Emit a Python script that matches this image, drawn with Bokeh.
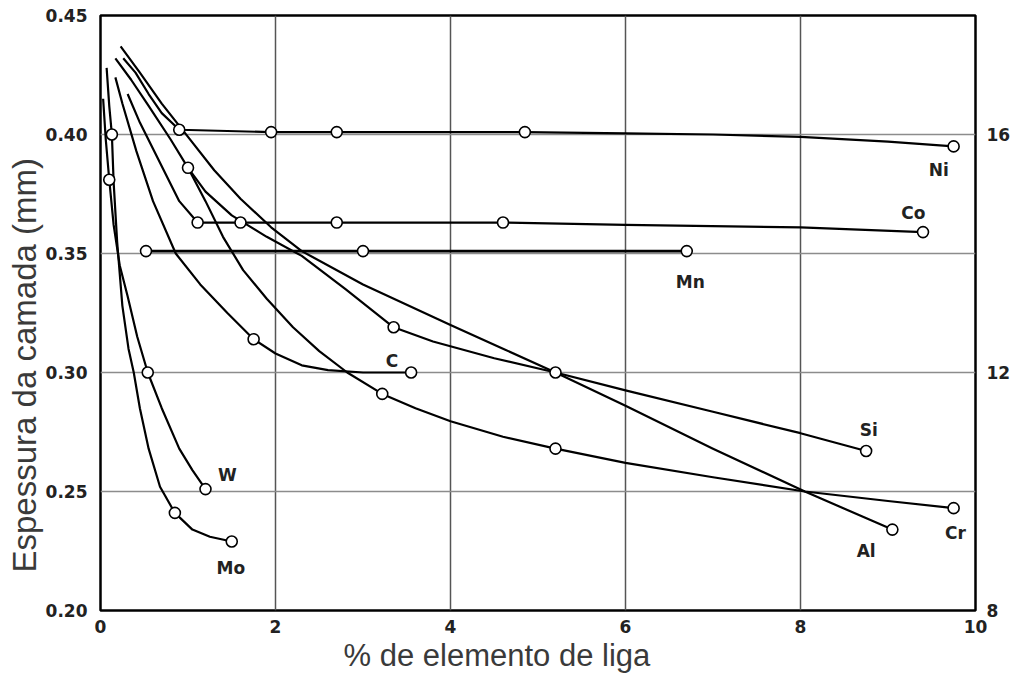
from bokeh.plotting import figure
from bokeh.models import Range1d, LinearAxis, FixedTicker, PrintfTickFormatter, Title
from bokeh.embed import file_html
from bokeh.resources import INLINE
from bokeh.core.properties import value

# ---- data: % alloying element vs layer thickness (mm)
al_x = [0.23, 0.45, 0.7, 1.0, 1.3, 1.6, 1.95, 2.3, 3.0, 4.0, 4.6, 5.2, 6.0, 7.0, 8.05, 9.05]
al_y = [0.437, 0.426, 0.413, 0.399, 0.385, 0.373, 0.361, 0.351, 0.337, 0.320, 0.310, 0.300, 0.286, 0.268, 0.250, 0.234]
al_mx = [5.2, 9.05]
al_my = [0.300, 0.234]

si_x = [1.0, 1.2, 1.5, 1.9, 2.3, 2.8, 3.35, 3.8, 4.5, 5.2, 6.0, 7.0, 8.0, 8.75]
si_y = [0.386, 0.376, 0.366, 0.357, 0.349, 0.335, 0.319, 0.313, 0.306, 0.300, 0.2925, 0.2835, 0.2745, 0.267]
si_mx = [3.35, 8.75]
si_my = [0.319, 0.267]

cr_x = [0.17, 0.35, 0.55, 0.8, 1.0, 1.2, 1.4, 1.63, 1.9, 2.2, 2.5, 2.82, 3.22, 3.6, 4.0, 4.6, 5.2, 6.0, 7.0, 8.05, 9.0, 9.75]
cr_y = [0.432, 0.423, 0.412, 0.398, 0.386, 0.372, 0.357, 0.343, 0.331, 0.319, 0.309, 0.300, 0.291, 0.285, 0.2795, 0.273, 0.268, 0.262, 0.256, 0.250, 0.246, 0.243]
cr_mx = [1.0, 3.22, 5.2, 9.75]
cr_my = [0.386, 0.291, 0.268, 0.243]

ni_x = [0.26, 0.4, 0.55, 0.7, 0.9, 1.95, 2.7, 4.85, 6.0, 7.0, 8.0, 9.0, 9.75]
ni_y = [0.432, 0.426, 0.417, 0.409, 0.402, 0.401, 0.401, 0.401, 0.4005, 0.400, 0.399, 0.397, 0.395]
ni_mx = [0.9, 1.95, 2.7, 4.85, 9.75]
ni_my = [0.402, 0.401, 0.401, 0.401, 0.395]

co_x = [0.31, 0.45, 0.6, 0.75, 0.9, 1.11, 1.6, 2.7, 4.6, 6.0, 8.0, 9.4]
co_y = [0.417, 0.405, 0.394, 0.383, 0.372, 0.363, 0.363, 0.363, 0.363, 0.362, 0.361, 0.359]
co_mx = [1.11, 1.6, 2.7, 4.6, 9.4]
co_my = [0.363, 0.363, 0.363, 0.363, 0.359]

mn_x = [0.52, 3.0, 6.7]
mn_y = [0.351, 0.351, 0.351]

c_x = [0.17, 0.25, 0.41, 0.6, 0.86, 1.14, 1.45, 1.75, 2.0, 2.3, 2.6, 3.0, 3.55]
c_y = [0.424, 0.413, 0.393, 0.372, 0.350, 0.337, 0.325, 0.314, 0.308, 0.303, 0.301, 0.300, 0.300]
c_mx = [1.75, 3.55]
c_my = [0.314, 0.300]

w_x = [0.03, 0.06, 0.10, 0.15, 0.22, 0.31, 0.42, 0.54, 0.7, 0.9, 1.05, 1.2]
w_y = [0.415, 0.398, 0.381, 0.362, 0.345, 0.332, 0.315, 0.300, 0.285, 0.268, 0.259, 0.251]
w_mx = [0.10, 0.54, 1.2]
w_my = [0.381, 0.300, 0.251]

mo_x = [0.07, 0.10, 0.13, 0.15, 0.19, 0.25, 0.32, 0.38, 0.45, 0.55, 0.68, 0.85, 1.05, 1.25, 1.5]
mo_y = [0.428, 0.412, 0.400, 0.380, 0.355, 0.328, 0.310, 0.300, 0.285, 0.268, 0.252, 0.241, 0.234, 0.231, 0.229]
mo_mx = [0.13, 0.85, 1.5]
mo_my = [0.400, 0.241, 0.229]

label_names = ["Ni", "Co", "Mn", "C", "Si", "Al", "Cr", "W", "Mo"]
label_x = [9.58, 9.29, 6.74, 3.33, 8.78, 8.75, 9.77, 1.45, 1.49]
label_y = [0.385, 0.367, 0.338, 0.305, 0.276, 0.225, 0.2325, 0.257, 0.218]

x_ticks = [0, 2, 4, 6, 8, 10]
y_ticks = [0.20, 0.25, 0.30, 0.35, 0.40, 0.45]
right_ticks = [8, 12, 16]
x_grid = [2, 4, 6, 8]
y_grid = [0.25, 0.30, 0.35, 0.40]

x_title = "% de elemento de liga"
y_title = "Espessura da camada (mm)"

# ---- figure
p = figure(width=1013, height=675, x_range=Range1d(0, 10), y_range=Range1d(0.20, 0.45),
           output_backend="svg", toolbar_location=None,
           min_border_left=100, min_border_right=37, min_border_top=15, min_border_bottom=65)
p.background_fill_color = "white"
p.border_fill_color = "white"
p.outline_line_color = "black"
p.outline_line_width = 2.5

p.xgrid.ticker = FixedTicker(ticks=x_grid)
p.xgrid.grid_line_color = "#555555"
p.xgrid.grid_line_width = 1.5
p.ygrid.ticker = FixedTicker(ticks=y_grid)
p.ygrid.grid_line_color = "#8c8c8c"
p.ygrid.grid_line_width = 1.5

tick_font = "DejaVu Sans"
for ax in (p.xaxis[0], p.yaxis[0]):
    ax.axis_line_color = None
    ax.major_tick_line_color = None
    ax.minor_tick_line_color = None
    ax.major_label_text_font = tick_font
    ax.major_label_text_font_style = "bold"
    ax.major_label_text_font_size = "17px"
    ax.major_label_text_color = "#222222"

p.xaxis[0].ticker = FixedTicker(ticks=x_ticks)
p.xaxis[0].major_label_standoff = 3
p.yaxis[0].ticker = FixedTicker(ticks=y_ticks)
p.yaxis[0].formatter = PrintfTickFormatter(format="%.2f")
p.yaxis[0].major_label_standoff = 7

p.extra_y_ranges = {"right": Range1d(8, 18)}
rax = LinearAxis(y_range_name="right", ticker=FixedTicker(ticks=right_ticks))
rax.axis_line_color = None
rax.major_tick_line_color = None
rax.minor_tick_line_color = None
rax.major_label_text_font = tick_font
rax.major_label_text_font_style = "bold"
rax.major_label_text_font_size = "17px"
rax.major_label_text_color = "#222222"
rax.major_label_standoff = 5
p.add_layout(rax, "right")

curves = [(al_x, al_y), (si_x, si_y), (cr_x, cr_y), (ni_x, ni_y), (co_x, co_y),
          (c_x, c_y), (w_x, w_y), (mo_x, mo_y)]
for cx, cy in curves:
    p.line(cx, cy, line_color="black", line_width=2.2, line_join="round")
p.line(mn_x, mn_y, line_color="black", line_width=2.8)

marks = [(al_mx, al_my), (si_mx, si_my), (cr_mx, cr_my), (ni_mx, ni_my), (co_mx, co_my),
         (mn_x, mn_y), (c_mx, c_my), (w_mx, w_my), (mo_mx, mo_my)]
for mx, my in marks:
    p.scatter(mx, my, size=11, marker="circle", fill_color="white", line_color="black", line_width=1.6)

p.text(x=label_x, y=label_y, text=label_names, text_font=value(tick_font), text_font_style="bold",
       text_font_size="17px", text_align="center", text_baseline="middle", text_color="#222222")

# axis titles as side-panel titles, shifted off-centre like in the reference
yt = Title(text=y_title, align="left", offset=38, standoff=0,
           text_font="Liberation Sans", text_font_size="33px", text_font_style="normal",
           text_color="#3a3a3a")
p.add_layout(yt, "left")
xt = Title(text=x_title, align="left", offset=243, standoff=0,
           text_font="Liberation Sans", text_font_size="31px", text_font_style="normal",
           text_color="#3a3a3a")
p.add_layout(xt, "below")

open("out.html", "w").write(file_html(p, INLINE))
